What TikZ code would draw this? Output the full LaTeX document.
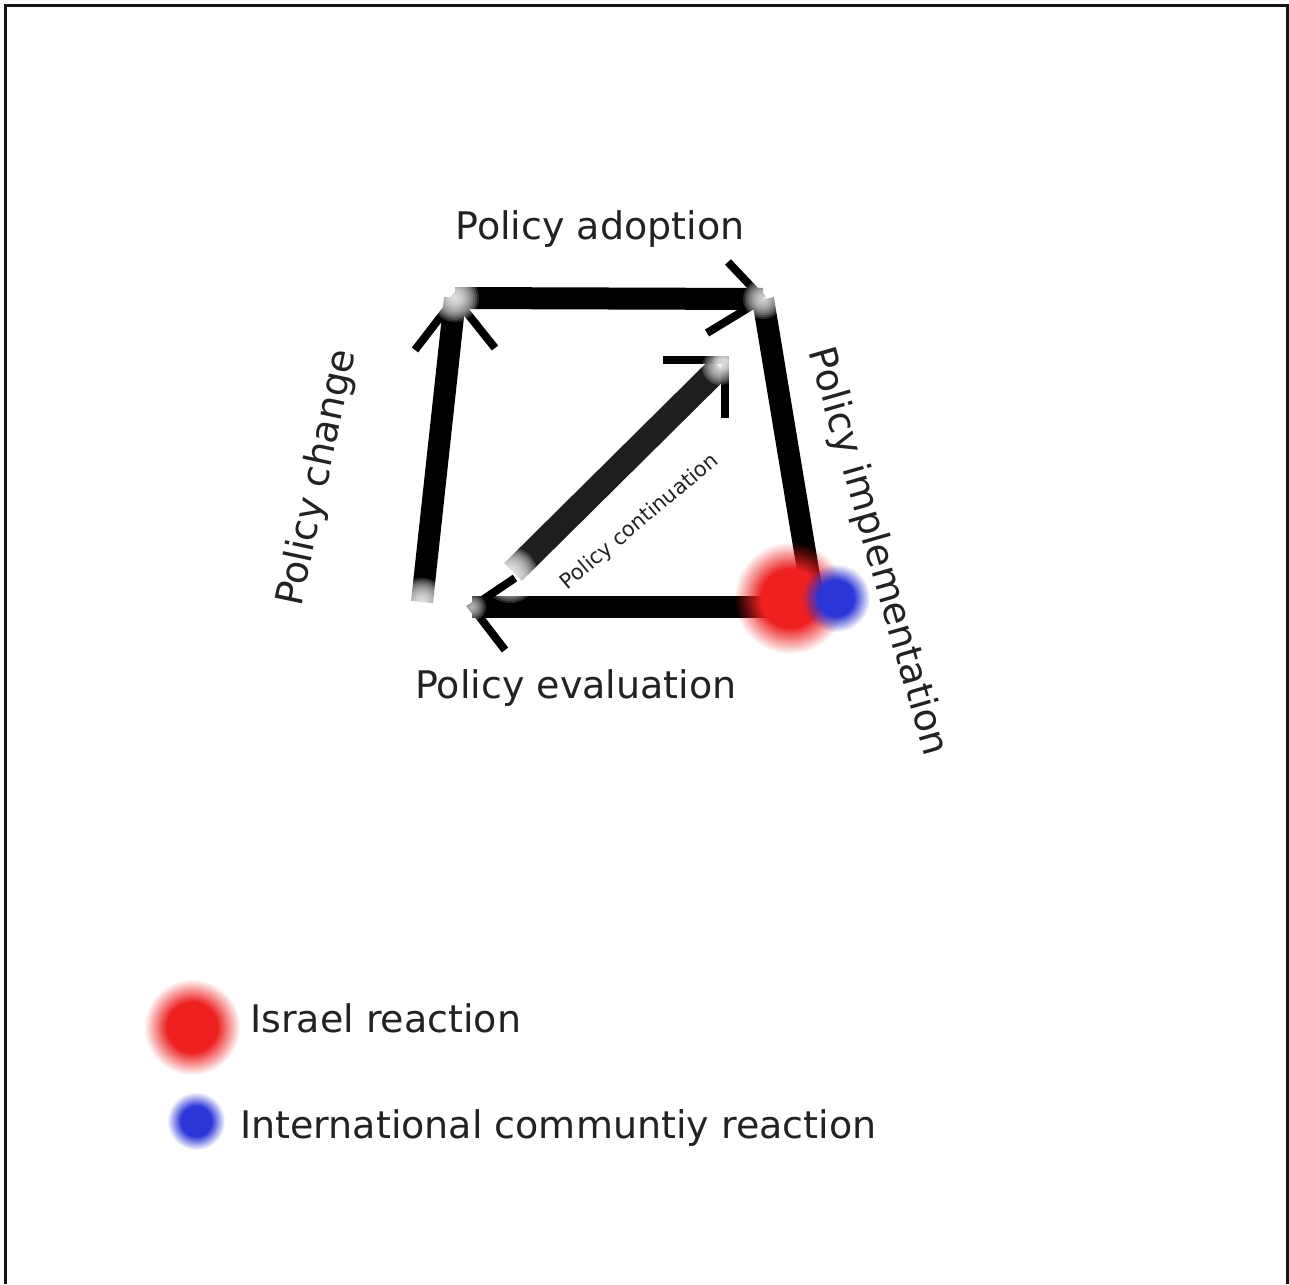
\documentclass[tikz,border=0pt]{standalone}
\usepackage{fontspec}
\setmainfont{DejaVu Sans}
\usetikzlibrary{fadings}
\definecolor{ink}{HTML}{222222}
\definecolor{diag}{HTML}{1E1E1E}
\definecolor{dotred}{HTML}{EE2020}
\definecolor{dotblue}{HTML}{2B35D8}
\pgfdeclareradialshading{dotshade}{\pgfpointorigin}{color(0bp)=(white); color(13bp)=(white); color(25bp)=(black); color(50bp)=(black)}
\pgfdeclarefading{softdot}{\pgfuseshading{dotshade}}
\newcommand\softend[2]{\foreach \rr in {2,4,...,#2}{\fill[white, fill opacity=0.16] (#1) circle (\rr pt);}}
\begin{document}
\begin{tikzpicture}[x=1pt,y=-1pt,
  bar/.style={line width=22pt, black},
  barb/.style={line width=8pt, black},
  fuzz/.style={path fading=softdot},
  lbl/.style={text=ink, font=\fontsize{38}{45}\selectfont, inner sep=0pt},
]
\useasboundingbox (0,0) rectangle (1289,1284);
\fill[white] (0,0) rectangle (1289,1284);
\draw[line width=3pt, black!92] (5.5,1284) -- (5.5,5.5) -- (1287.5,5.5) -- (1287.5,1284);

% corners of the cycle
\coordinate (BL) at (422,602);
\coordinate (TL) at (455,298);
\coordinate (TR) at (763,299);
\coordinate (BR) at (812,594);
\coordinate (BE) at (790,607);
\coordinate (BH) at (472,607);
\coordinate (DS) at (513,572);
\coordinate (DE) at (720,367);
\coordinate (DH) at (725,360);
\coordinate (DSg) at (510,575);
% chevron arm ends
\coordinate (tlA) at (415,350);
\coordinate (tlB) at (495,348);
\coordinate (trA) at (728,262);
\coordinate (trB) at (707,333);
\coordinate (blA) at (515,578);
\coordinate (blB) at (505,650);
\coordinate (dA) at (663,360);
\coordinate (dB) at (725,418);

% bars
\draw[bar] (BL) -- (TL);
\draw[bar] (TL) -- (TR);
\draw[bar] (TR) -- (BR);
\draw[bar] (BE) -- (BH);
\draw[line width=25pt, diag] (DS) -- (DE);

% chevrons
\draw[barb] (tlA) -- (TL) -- (tlB);
\draw[barb] (trA) -- (TR);
\draw[barb] (trB) -- (TR);
\draw[barb] (dA) -- (DH) -- (dB);

% soft ends
\softend{TL}{24}
\softend{TR}{20}
\softend{BL}{24}
\softend{DSg}{28}
\softend{DE}{18}
\softend{DH}{12}

% bottom chevron, drawn over the faded end of the diagonal
\draw[barb] (blA) -- (BH) -- (blB);
\softend{BH}{14}

% reaction dots
\fill[dotred, fuzz] (790,598) circle (56pt);
\fill[dotblue, fuzz] (836,598) circle (34pt);

% labels
\node[lbl, anchor=base] (adopt) at (600,239) {Policy adoption};
\node[lbl, anchor=base] (eval) at (576,698) {Policy evaluation};
\node[lbl, rotate=78] (change) at (318,478) {Policy change};
\node[lbl, rotate=-74] (impl) at (877,552) {Policy implementation};
\node[lbl, font=\fontsize{21}{25}\selectfont, rotate=40] (cont) at (640,522) {Policy continuation};

% legend
\coordinate (lr) at (192,1027);
\coordinate (lb) at (196,1121);
\fill[dotred, fuzz] (lr) circle (48pt);
\fill[dotblue, fuzz] (lb) circle (29pt);
\node[lbl, anchor=base west] (isr) at (250,1032) {Israel reaction};
\node[lbl, anchor=base west] (intl) at (240,1138) {International communtiy reaction};
\end{tikzpicture}
\end{document}
